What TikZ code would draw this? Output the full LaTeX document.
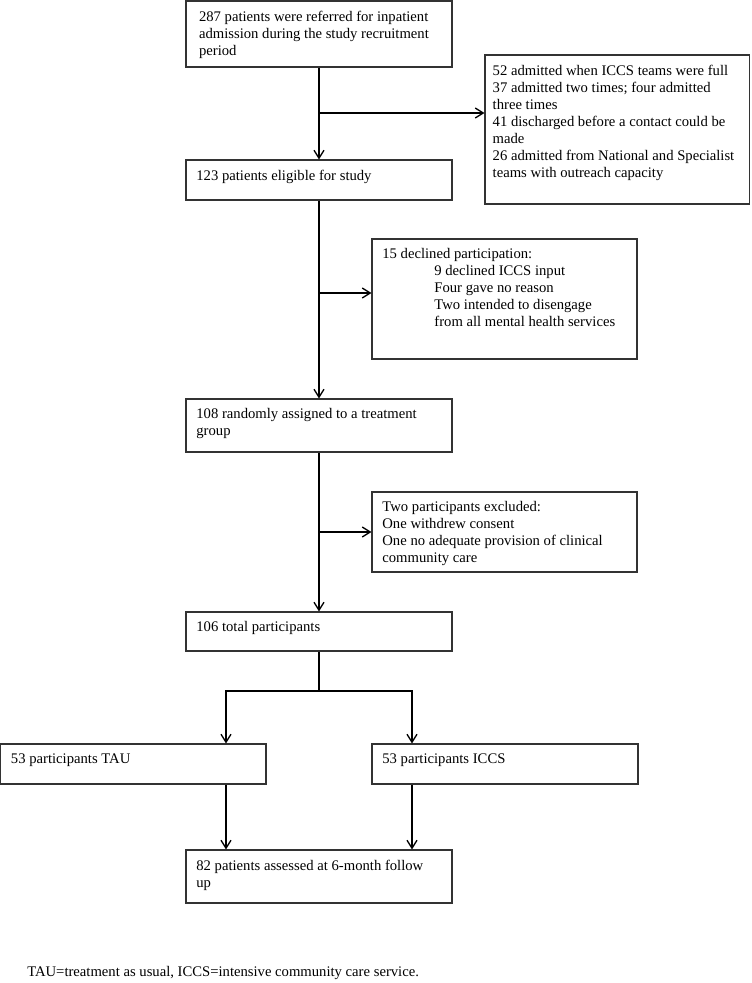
\documentclass[tikz,border=0pt]{standalone}
\usepackage{fontspec}
\setmainfont{Liberation Serif}
\usetikzlibrary{arrows.meta,fit}

\tikzset{
	box/.style={draw=black!80, line width=0.8pt, inner sep=0pt},
	txt/.style={anchor=north west, align=left, inner xsep=8pt, inner ysep=7.5pt,
		font=\fontsize{11pt}{12.75pt}\selectfont},
	flow/.style={line width=1pt, -{Straight Barb[length=6pt,width=7.5pt]}},
	line/.style={line width=1pt}
}

\begin{document}
\begin{tikzpicture}[x=0.75pt, y=-0.75pt]
		%%%%% START %%%%%
		\useasboundingbox (0, 0) rectangle (751, 983);
		
		% main column
		\node[box, fit={(186, 1) (452, 67)}] (refer) {};
		\node[txt, inner xsep=10pt] (refer-t) at (refer.north west) {287 patients were referred for inpatient\\admission during the study recruitment\\period};
		
		\node[box, fit={(186, 160) (452, 200)}] (elig) {};
		\node[txt] (elig-t) at (elig.north west) {123 patients eligible for study};
		
		\node[box, fit={(186, 399) (452, 452)}] (rand) {};
		\node[txt] (rand-t) at (rand.north west) {108 randomly assigned to a treatment\\group};
		
		\node[box, fit={(186, 612) (452, 651)}] (total) {};
		\node[txt] (total-t) at (total.north west) {106 total participants};
		
		% side boxes
		\node[box, fit={(485, 55) (749.5, 204)}] (excl1) {};
		\node[txt, inner xsep=6pt] (excl1-t) at (excl1.north west) {52 admitted when ICCS teams were full\\37 admitted two times; four admitted\\three times\\41 discharged before a contact could be\\made\\26 admitted from National and Specialist\\teams with outreach capacity};
		
		\node[box, fit={(372, 239) (637, 359)}] (decl) {};
		\node[txt] (decl-t) at (decl.north west) {15 declined participation:\\\hspace*{39pt}9 declined ICCS input\\\hspace*{39pt}Four gave no reason\\\hspace*{39pt}Two intended to disengage\\\hspace*{39pt}from all mental health services};
		
		\node[box, fit={(372, 492) (637, 572)}] (excl2) {};
		\node[txt] (excl2-t) at (excl2.north west) {Two participants excluded:\\One withdrew consent\\One no adequate provision of clinical\\community care};
		
		% groups
		\node[box, fit={(0.6, 744) (266, 784)}] (tau) {};
		\node[txt] (tau-t) at (tau.north west) {53 participants TAU};
		
		\node[box, fit={(372, 744) (638, 784)}] (iccs) {};
		\node[txt] (iccs-t) at (iccs.north west) {53 participants ICCS};
		
		\node[box, fit={(186, 850) (452, 903)}] (follow) {};
		\node[txt] (follow-t) at (follow.north west) {82 patients assessed at 6-month follow\\up};
		
		% arrows
		\coordinate (b1) at (319, 113);
		\coordinate (b2) at (319, 293);
		\coordinate (b3) at (319, 532);
		\coordinate (split) at (319, 691);
		\coordinate (sl) at (226, 691);
		\coordinate (sr) at (412, 691);
		
		\draw[flow] (refer) -- (elig);
		\draw[flow] (b1) -- (b1 -| excl1.west);
		\draw[flow] (elig) -- (rand);
		\draw[flow] (b2) -- (b2 -| decl.west);
		\draw[flow] (rand) -- (total);
		\draw[flow] (b3) -- (b3 -| excl2.west);
		
		\draw[line] (total) -- (split);
		\draw[flow] (split) -- (sl) -- (sl |- tau.north);
		\draw[flow] (split) -- (sr) -- (sr |- iccs.north);
		\draw[flow] (sl |- tau.south) -- (sl |- follow.north);
		\draw[flow] (sr |- iccs.south) -- (sr |- follow.north);
		
		\node[anchor=west, inner sep=0pt, font=\fontsize{11pt}{12.75pt}\selectfont] (note) at (27, 973) {TAU=treatment as usual, ICCS=intensive community care service.};
		%%%%% END %%%%%
\end{tikzpicture}
\end{document}
